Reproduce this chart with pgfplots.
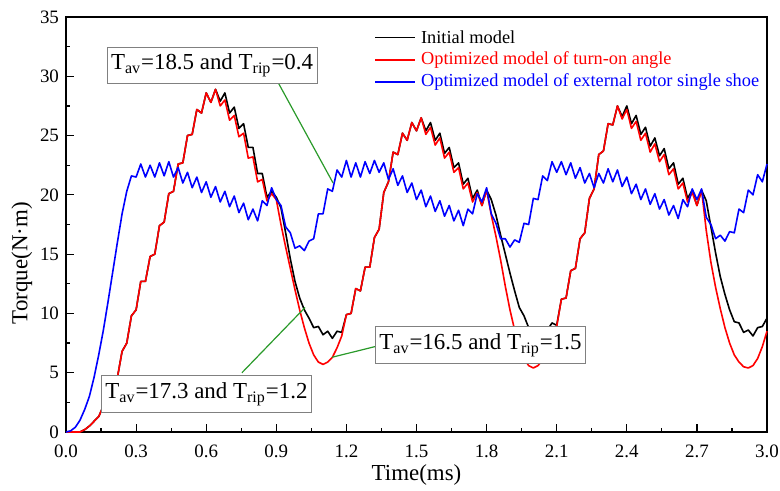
\documentclass[border=0pt]{standalone}
\usepackage{fontspec}
\setmainfont{Liberation Serif}
\usepackage{pgfplots}
\usepackage{pgfplotstable}
\pgfplotsset{compat=1.18}
\definecolor{annogreen}{HTML}{2A9A2A}
\definecolor{boxgray}{HTML}{808080}

% x, initial (k), turn-on angle (r), single shoe (b)
\pgfplotstableread{
x k r b
0.00 0 0 0
0.02 0 0 0.1
0.04 0 0 0.4
0.06 0 0 1.0
0.08 0.2 0.2 1.9
0.10 0.5 0.5 3.0
0.12 0.9 0.9 4.6
0.14 1.3 1.3 6.5
0.16 2.2 2.2 8.6
0.18 2.3 2.3 11.0
0.20 4.2 4.2 13.5
0.22 4.6 4.6 16.0
0.24 6.8 6.8 18.4
0.26 7.5 7.5 20.3
0.28 9.8 9.8 21.6
0.30 10.3 10.3 21.5
0.32 12.7 12.7 22.6
0.34 12.7 12.7 21.5
0.36 14.8 14.8 22.5
0.38 15.0 15.0 21.5
0.40 17.4 17.4 22.7
0.42 17.7 17.7 21.6
0.44 20.1 20.1 22.8
0.46 20.3 20.3 21.5
0.48 22.6 22.6 22.3
0.50 22.7 22.7 21.0
0.52 25.0 25.0 21.9
0.54 25.1 25.1 20.6
0.56 27.2 27.2 21.5
0.58 26.9 26.9 20.2
0.60 28.6 28.6 21.1
0.62 27.8 27.8 19.8
0.64 28.9 28.9 20.7
0.66 27.9 27.5 19.4
0.68 28.6 28.0 20.3
0.70 26.9 26.3 19.0
0.72 27.4 26.7 19.9
0.74 25.6 24.9 18.5
0.76 26.0 25.2 19.3
0.78 24.0 23.1 17.9
0.80 24.0 23.2 18.8
0.82 21.8 21.1 17.8
0.84 21.8 21.3 19.5
0.86 19.8 19.5 19.1
0.88 20.3 20.1 20.6
0.90 19.8 19.6 19.6
0.92 18.9 17.5 19.1
0.94 16.8 15.6 17.3
0.96 14.6 13.8 16.8
0.98 12.7 12.0 15.5
1.00 11.3 10.3 15.7
1.02 10.3 8.8 15.3
1.04 9.6 7.5 16.1
1.06 8.8 6.5 16.3
1.08 8.9 5.9 18.4
1.10 8.2 5.7 18.4
1.12 8.5 5.9 20.5
1.14 7.9 6.3 20.3
1.16 8.5 7.1 22.1
1.18 8.4 8.1 21.5
1.20 9.9 9.9 22.9
1.22 10.0 10.0 21.5
1.24 12.1 12.1 22.7
1.26 11.9 11.9 21.5
1.28 13.9 13.9 22.8
1.30 13.9 13.9 21.8
1.32 16.4 16.4 22.9
1.34 17.1 17.1 21.9
1.36 20.2 20.2 22.7
1.38 21.1 21.1 21.3
1.40 23.6 23.6 22.2
1.42 23.4 23.4 20.8
1.44 25.2 25.2 21.6
1.46 24.6 24.6 20.2
1.48 26.1 26.1 21.0
1.50 25.4 25.4 19.6
1.52 26.5 26.5 20.4
1.54 25.4 25.1 19.0
1.56 26.1 25.7 19.9
1.58 24.6 24.2 18.6
1.60 25.2 24.8 19.5
1.62 23.5 23.1 18.2
1.64 24.0 23.6 19.1
1.66 22.3 21.9 17.8
1.68 22.7 22.3 18.7
1.70 20.9 20.5 17.4
1.72 21.4 21.0 18.8
1.74 19.7 19.4 18.4
1.76 20.4 20.2 20.1
1.78 19.1 19.1 19.4
1.80 20.4 20.4 20.6
1.82 19.6 18.3 18.4
1.84 18.3 16.5 17.6
1.86 16.6 14.5 16.3
1.88 15.0 12.3 16.3
1.90 13.4 10.3 15.6
1.92 11.9 8.6 16.2
1.94 10.5 7.2 16.0
1.96 9.8 6.2 17.6
1.98 8.8 5.6 17.5
2.00 8.8 5.4 19.7
2.02 8.2 5.6 19.6
2.04 8.7 6.1 21.6
2.06 8.6 7.0 21.2
2.08 9.2 8.1 22.8
2.10 9.0 8.9 21.9
2.12 11.2 11.2 22.8
2.14 11.3 11.3 21.7
2.16 13.6 13.6 22.7
2.18 13.8 13.8 21.4
2.20 16.3 16.3 22.3
2.22 16.8 16.8 21.0
2.24 19.7 19.7 21.8
2.26 20.5 20.5 20.6
2.28 23.4 23.4 21.8
2.30 23.7 23.7 21.0
2.32 26.0 26.0 22.2
2.34 25.9 25.9 21.1
2.36 27.5 27.5 22.1
2.38 26.6 26.4 20.7
2.40 27.5 27.2 21.5
2.42 26.0 25.6 20.1
2.44 26.7 26.2 20.9
2.46 25.1 24.6 19.6
2.48 25.7 25.2 20.5
2.50 24.1 23.6 19.2
2.52 24.8 24.3 20.1
2.54 23.3 22.8 18.8
2.56 23.9 23.4 19.6
2.58 22.2 21.7 18.3
2.60 22.7 22.2 19.1
2.62 20.9 20.5 18.0
2.64 21.4 21.0 19.6
2.66 19.7 19.4 19.0
2.68 20.4 20.2 20.5
2.70 19.1 19.1 19.6
2.72 20.4 20.4 20.5
2.74 19.5 17.0 18.1
2.76 17.3 14.3 17.5
2.78 15.1 12.2 16.3
2.80 13.1 10.4 16.6
2.82 11.6 8.8 16.1
2.84 10.3 7.5 16.9
2.86 9.3 6.5 16.8
2.88 9.2 5.9 18.8
2.90 8.4 5.5 18.5
2.92 8.6 5.4 20.4
2.94 8.1 5.6 20.0
2.96 8.8 6.2 21.7
2.98 8.9 7.2 21.1
3.00 9.6 8.5 22.6
}\torque

\begin{document}
\begin{tikzpicture}
  \begin{axis}[
    scale only axis,
    width=350.5bp,
    height=207.5bp,
    xmin=0, xmax=3,
    ymin=0, ymax=35,
    axis line style={line width=0.75bp},
    tick pos=left,
    tick align=inside,
    major tick length=4bp,
    minor tick length=2bp,
    tick style={line width=0.6bp, black},
    xtick={0,0.3,0.6,0.9,1.2,1.5,1.8,2.1,2.4,2.7,3.0},
    xticklabels={0.0,0.3,0.6,0.9,1.2,1.5,1.8,2.1,2.4,2.7,3.0},
    ytick={0,5,...,35},
    minor x tick num=1,
    minor y tick num=1,
    /pgf/number format/assume math mode=true,
    tick label style={font=\fontsize{9.5}{11}\selectfont},
    xticklabel style={yshift=-3bp},
    xlabel={Time(ms)},
    ylabel={Torque(N·m)},
    label style={font=\fontsize{11.5}{13}\selectfont},
    xlabel style={at={(axis description cs:0.5,-0.104)}, anchor=center},
    ylabel style={at={(axis description cs:-0.063,0.407)}, anchor=center},
    every axis plot/.append style={line width=0.8bp, line join=round},
    clip=false
  ]
    \addplot[black] table[x=x, y=k] {\torque};
    \addplot[red] table[x=x, y=r] {\torque};
    \addplot[blue] table[x=x, y=b] {\torque};

    % legend
    \tikzset{legtext/.style={anchor=west, inner sep=0pt,
      font=\fontsize{9.2}{11}\selectfont}}
    \draw[black, line width=0.8bp] (rel axis cs:0.441,0.951) -- (rel axis cs:0.498,0.951);
    \node[legtext, text=black] at (rel axis cs:0.506,0.951) {Initial model};
    \draw[red, line width=0.8bp] (rel axis cs:0.441,0.897) -- (rel axis cs:0.498,0.897);
    \node[legtext, text=red] at (rel axis cs:0.506,0.897) {Optimized model of turn-on angle};
    \draw[blue, line width=0.8bp] (rel axis cs:0.441,0.843) -- (rel axis cs:0.498,0.843);
    \node[legtext, text=blue] at (rel axis cs:0.506,0.843) {Optimized model of external rotor single shoe};

    \draw[annogreen, line width=0.6bp] (axis cs:0.907,29.5) -- (axis cs:1.143,21.0);
    \draw[annogreen, line width=0.6bp] (axis cs:1.138,6.3) -- (axis cs:1.322,7.2);
    \draw[annogreen, line width=0.6bp] (axis cs:0.753,5.0) -- (axis cs:1.023,10.5);

    \tikzset{annobox/.style={draw=boxgray, fill=white, line width=0.5bp,
      font=\fontsize{11.5}{13}\selectfont, inner xsep=2bp,
      minimum width=105bp, minimum height=17bp}}
    \node[annobox] at (axis cs:0.625,30.94)
      {T\textsubscript{av}=18.5 and T\textsubscript{rip}=0.4};
    \node[annobox, anchor=west] at (axis cs:1.322,7.34)
      {T\textsubscript{av}=16.5 and T\textsubscript{rip}=1.5};
    \node[annobox] at (axis cs:0.601,3.2)
      {T\textsubscript{av}=17.3 and T\textsubscript{rip}=1.2};
  \end{axis}
  \pgfresetboundingbox
  \path (-33bp,-29.5bp) rectangle (357bp,216bp);
\end{tikzpicture}
\end{document}
